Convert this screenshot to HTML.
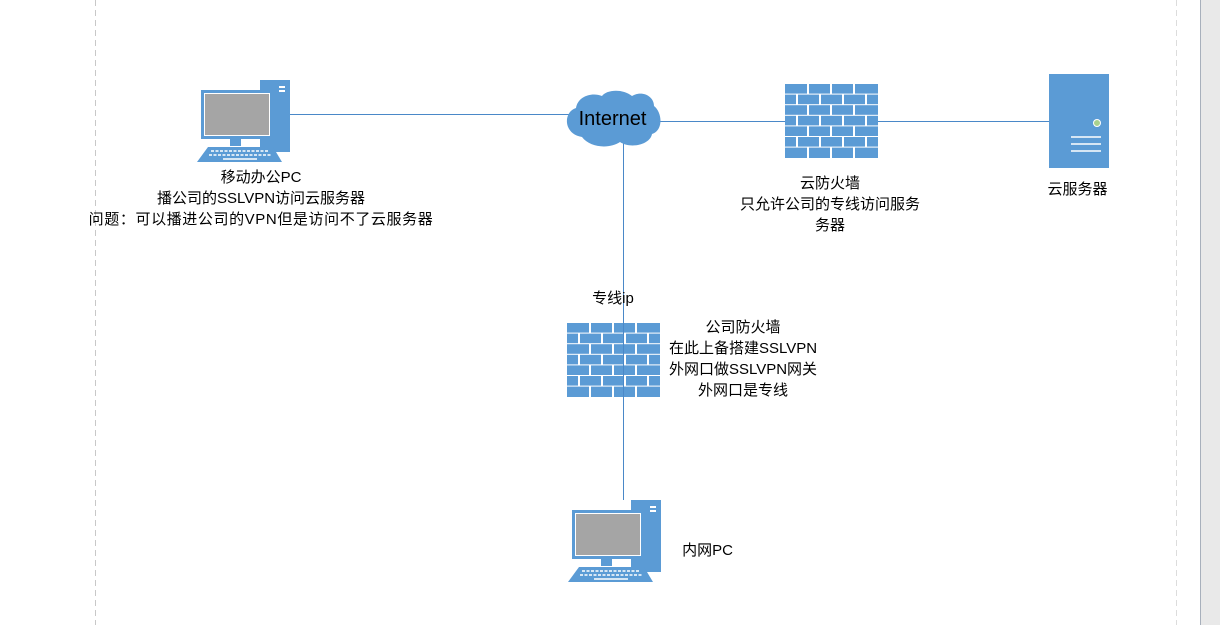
<!DOCTYPE html>
<html><head><meta charset="utf-8"><style>
body{margin:0;width:1220px;height:625px;background:#fff;overflow:hidden;position:relative;font-family:"Liberation Sans","Noto Sans CJK SC",sans-serif;}
.t{position:absolute;font-size:15px;color:#000;text-align:center;line-height:21px;white-space:nowrap;}
</style></head><body>
<svg width="1220" height="625" style="position:absolute;left:0;top:0">
<defs>
<g id="pc">
<rect x="63" y="0" width="30" height="72" fill="#5b9bd5"/>
<rect x="82" y="6" width="6" height="2" fill="#fff"/><rect x="82" y="10" width="6" height="2" fill="#fff"/>
<rect x="4" y="10" width="72" height="49" fill="#5b9bd5"/>
<rect x="7" y="13" width="66" height="43" fill="#fff"/>
<rect x="8" y="14" width="64" height="41" fill="#a5a5a5"/>
<rect x="33" y="59" width="11" height="7" fill="#5b9bd5"/>
<polygon points="11,67 76,67 85,82 0,82" fill="#5b9bd5"/>
<g stroke="#fff" stroke-width="1.5" stroke-dasharray="3,1.5"><line x1="14" y1="71" x2="72" y2="71"/><line x1="12" y1="75" x2="75" y2="75"/></g>
<line x1="26" y1="79" x2="60" y2="79" stroke="#fff" stroke-width="1.5"/>
</g>
<g id="fw">
<rect width="93" height="74" fill="#fff"/>
<g fill="#5b9bd5">
<rect x="0" y="0" width="22" height="9.6"/><rect x="24" y="0" width="21" height="9.6"/><rect x="47" y="0" width="21" height="9.6"/><rect x="70" y="0" width="23" height="9.6"/>
<rect x="0" y="10.6" width="11" height="9.6"/><rect x="13" y="10.6" width="21" height="9.6"/><rect x="36" y="10.6" width="21" height="9.6"/><rect x="59" y="10.6" width="21" height="9.6"/><rect x="82" y="10.6" width="11" height="9.6"/>
<rect x="0" y="21.2" width="22" height="9.6"/><rect x="24" y="21.2" width="21" height="9.6"/><rect x="47" y="21.2" width="21" height="9.6"/><rect x="70" y="21.2" width="23" height="9.6"/>
<rect x="0" y="31.8" width="11" height="9.6"/><rect x="13" y="31.8" width="21" height="9.6"/><rect x="36" y="31.8" width="21" height="9.6"/><rect x="59" y="31.8" width="21" height="9.6"/><rect x="82" y="31.8" width="11" height="9.6"/>
<rect x="0" y="42.4" width="22" height="9.6"/><rect x="24" y="42.4" width="21" height="9.6"/><rect x="47" y="42.4" width="21" height="9.6"/><rect x="70" y="42.4" width="23" height="9.6"/>
<rect x="0" y="53" width="11" height="9.6"/><rect x="13" y="53" width="21" height="9.6"/><rect x="36" y="53" width="21" height="9.6"/><rect x="59" y="53" width="21" height="9.6"/><rect x="82" y="53" width="11" height="9.6"/>
<rect x="0" y="63.6" width="22" height="10.4"/><rect x="24" y="63.6" width="21" height="10.4"/><rect x="47" y="63.6" width="21" height="10.4"/><rect x="70" y="63.6" width="23" height="10.4"/>
</g>
</g>
</defs>
<line x1="95.5" y1="0" x2="95.5" y2="625" stroke="#c8c8c8" stroke-dasharray="6,4"/>
<line x1="1176.5" y1="0" x2="1176.5" y2="625" stroke="#dcdcdc" stroke-dasharray="6,4"/>
<rect x="1200" y="0" width="20" height="625" fill="#e9e9e9"/>
<line x1="1200.5" y1="0" x2="1200.5" y2="625" stroke="#a8b0bc"/>
<g stroke="#4a88c8" stroke-width="1">
<line x1="280" y1="114.5" x2="580" y2="114.5"/>
<line x1="650" y1="121.5" x2="1085" y2="121.5"/>
<line x1="623.5" y1="140" x2="623.5" y2="500"/>
</g>
<use href="#pc" x="197" y="80"/>
<use href="#pc" x="568" y="500"/>
<path d="M576,108 C563,112 563,134 582,137 C590,148 610,149 620,142 C630,149 650,145 652,134 C664,130 662,112 654,106 C654,96 642,90 632,96 C622,88 606,90 602,96 C592,92 578,96 576,108Z" fill="#5b9bd5"/>
<use href="#fw" x="785" y="84"/>
<use href="#fw" x="567" y="323"/>
<line x1="623.5" y1="310" x2="623.5" y2="397" stroke="#4a88c8"/>
<rect x="1049" y="74" width="60" height="94" fill="#5b9bd5"/>
<circle cx="1097" cy="123" r="3.5" fill="#a9d18e" stroke="#fff"/>
<g stroke="#fff" stroke-width="1.5"><line x1="1071" y1="137" x2="1101" y2="137"/><line x1="1071" y1="144" x2="1101" y2="144"/><line x1="1071" y1="151" x2="1101" y2="151"/></g>
</svg>
<div class="t" style="left:565px;top:109px;width:95px;font-size:20px;">Internet</div>
<div class="t" style="left:61px;top:167px;width:400px;">移动办公PC<br>播公司的SSLVPN访问云服务器<br><span style="letter-spacing:0.6px">问题：可以播进公司的VPN但是访问不了云服务器</span></div>
<div class="t" style="left:720px;top:173px;width:220px;">云防火墙<br>只允许公司的专线访问服务<br>务器</div>
<div class="t" style="left:1030px;top:179px;width:95px;">云服务器</div>
<div class="t" style="left:568px;top:288px;width:90px;">专线ip</div>
<div class="t" style="left:648px;top:317px;width:190px;">公司防火墙<br>在此上备搭建SSLVPN<br>外网口做SSLVPN网关<br>外网口是专线</div>
<div class="t" style="left:670px;top:540px;width:75px;">内网PC</div>
</body></html>
